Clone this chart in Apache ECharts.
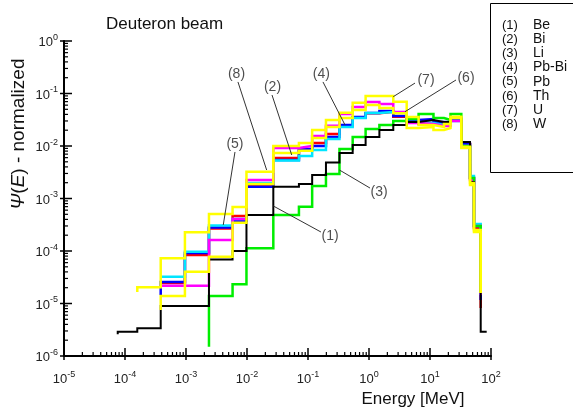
<!DOCTYPE html>
<html><head><meta charset="utf-8">
<script src="https://cdn.jsdelivr.net/npm/echarts/dist/echarts.min.js"></script>
<style>html,body{margin:0;padding:0;background:#fff}#c{width:573px;height:412px}</style>
</head><body><div id="c"></div>
<script>
// ---- data ----
const binEdges = [7.6e-5,1.59e-4,3.85e-4,9.6e-4,2.38e-3,5.8e-3,9.8e-3,2.7e-2,7.1e-2,0.117,0.197,0.328,0.54,0.88,1.48,2.5,4.15,6.5,11.4,17,21.7,32.6,45.3,52.6,67.8,85];
const beVals  = [2.9e-6,3.37e-6,8.95e-6,8.95e-6,6.89e-5,1.0e-4,4.85e-4,1.68e-3,1.89e-3,2.8e-3,4.85e-3,7.36e-3,1.04e-2,1.48e-2,2.02e-2,2.51e-2,2.87e-2,3.13e-2,2.87e-2,2.87e-2,3.41e-2,1.19e-2,2.06e-3,2.4e-4,2.9e-6];
const biVals  = [null,null,2.46e-5,8.4e-5,2.68e-4,4.64e-4,1.73e-3,5.91e-3,8.39e-3,1.14e-2,1.69e-2,2.4e-2,3.5e-2,4.2e-2,4.5e-2,3.6e-2,2.87e-2,2.62e-2,2.62e-2,2.62e-2,3.13e-2,1.09e-2,2.46e-3,2.74e-4,null];
const liVals  = [null,null,null,null,1.39e-5,2.32e-5,1.13e-4,4.85e-4,6.98e-4,1.73e-3,2.93e-3,8.77e-3,1.48e-2,2.11e-2,2.51e-2,2.99e-2,3.27e-2,4.07e-2,3.41e-2,3.13e-2,4.07e-2,1.0e-2,2.46e-3,3.0e-4,null];
const pbbiVals= [null,null,2.57e-5,9.16e-5,2.8e-4,3.78e-4,1.68e-3,5.41e-3,8.77e-3,1.0e-2,1.48e-2,2.51e-2,3.57e-2,4.25e-2,4.64e-2,3.73e-2,3.13e-2,3.27e-2,2.87e-2,2.87e-2,3.27e-2,1.09e-2,2.46e-3,3.0e-4,null];
const pbVals  = [null,null,3.24e-5,9.7e-5,3.06e-4,4.07e-4,1.97e-3,5.3e-3,6.45e-3,8.39e-3,1.36e-2,2.3e-2,3.41e-2,4.25e-2,4.44e-2,4.25e-2,2.87e-2,2.74e-2,2.51e-2,2.51e-2,2.99e-2,1.0e-2,2.68e-3,3.27e-4,null];
const thVals  = [null,null,2.18e-5,2.18e-5,1.62e-4,4.07e-4,2.25e-3,9.17e-3,1.0e-2,1.55e-2,2.43e-2,4.07e-2,5.53e-2,6.89e-2,6.31e-2,4.44e-2,2.74e-2,2.62e-2,2.4e-2,2.4e-2,2.99e-2,1.0e-2,2.25e-3,3.0e-4,null];
const uVals   = [null,null,1.39e-5,4.03e-5,7.79e-5,3.46e-4,1.89e-3,7.36e-3,8.14e-3,1.42e-2,2.3e-2,3.41e-2,6.68e-2,8.96e-2,8.96e-2,6.98e-2,3.57e-2,2.51e-2,2.3e-2,2.62e-2,3.61e-2,9.7e-3,1.97e-3,2.51e-4,null];
const wVals   = [null,2.04e-5,7.26e-5,2.27e-4,5.07e-4,6.89e-4,3.24e-3,1.0e-2,1.14e-2,2.02e-2,3.13e-2,4.31e-2,4.85e-2,6.04e-2,5.3e-2,4.2e-2,2.2e-2,2.3e-2,2.02e-2,2.2e-2,3.41e-2,9.17e-3,1.81e-3,2.3e-4,null];

const seriesNames  = ['Be','Bi','Li','Pb-Bi','Pb','Th','U','W'];
const seriesVals   = [beVals,biVals,liVals,pbbiVals,pbVals,thVals,uVals,wVals];
const seriesColors = ['#000000','#ff0000','#00ee00','#0000ff','#00e5ff','#ff00ff','#ffff00','#ffff00'];
const seriesWidths = [2,2.5,2.5,2.5,2.5,2.5,2.5,2.5];
const startTails   = [2.6e-6,null,1.5e-6,1.45e-5,null,null,7.5e-6,1.65e-5];
const endTails     = [null,8.2e-6,1.58e-5,1.17e-5,1.45e-5,1.45e-5,1.58e-5,1.58e-5];
const drawOrder    = [1,3,4,5,2,0,6,7];

const calloutTexts = ['(1)','(2)','(3)','(4)','(5)','(6)','(7)','(8)'];
const calloutTextE = [0.23,2.62e-2,1.46,0.166,6.35e-3,38.9,8.6,6.73e-3];
const calloutTextV = [1.89e-4,0.133,1.3e-3,0.235,1.09e-2,0.197,0.181,0.235];
const calloutFromE = [0.163,2.57e-2,1.04,0.176,6.35e-3,26.7,5.68,7.11e-3];
const calloutFromV = [2.3e-4,9.36e-2,1.58e-3,0.166,7.69e-3,0.181,0.158,0.166];
const calloutToE   = [2.7e-2,5.41e-2,0.328,0.405,4.08e-3,3.89,2.5,2.1e-2];
const calloutToV   = [7.2e-4,6.74e-3,3.49e-3,2.51e-2,3.13e-4,4.5e-2,8.69e-2,3.49e-3];

const xDecades = [-5,-4,-3,-2,-1,0,1,2];
const yDecades = [-6,-5,-4,-3,-2,-1,0];
const minorMult = [2,3,4,5,6,7,8,9];

// ---- build ----
const FONT = '"Liberation Sans", Arial, Helvetica, sans-serif';
function stepPoints(vals, st, et) {
  const pts = [];
  let first = -1, last = -1;
  vals.forEach((v, i) => { if (v != null) { if (first < 0) first = i; last = i; } });
  if (st != null) pts.push([binEdges[first], st]);
  for (let i = first; i <= last; i++) {
    pts.push([binEdges[i], vals[i]]);
    pts.push([binEdges[i + 1], vals[i]]);
  }
  if (et != null) pts.push([binEdges[last + 1], et]);
  return pts;
}
const series = [];
drawOrder.forEach(k => {
  series.push({
    type: 'line', name: seriesNames[k], data: stepPoints(seriesVals[k], startTails[k], endTails[k]),
    showSymbol: false, symbol: 'none', animation: false,
    lineStyle: { color: seriesColors[k], width: seriesWidths[k], cap: 'butt', join: 'miter' }, z: 2
  });
});
series.push({
  type: 'lines', coordinateSystem: 'cartesian2d', animation: false, z: 3,
  lineStyle: { color: '#333', width: 1, opacity: 1 },
  data: calloutTexts.map((t, i) => ({ coords: [[calloutFromE[i], calloutFromV[i]], [calloutToE[i], calloutToV[i]]] }))
});
series.push({
  type: 'scatter', animation: false, z: 4, symbolSize: 1, itemStyle: { color: 'rgba(0,0,0,0)' },
  data: calloutTexts.map((t, i) => ({ name: t, value: [calloutTextE[i], calloutTextV[i]] })),
  label: { show: true, position: 'inside', formatter: p => p.name, color: '#222', fontSize: 14, fontFamily: FONT }
});
const xMajor = xDecades.map(k => [Math.pow(10, k), 1e-6, 1]);
const xMinor = [];
xDecades.slice(0, -1).forEach(k => minorMult.forEach(m => xMinor.push([m * Math.pow(10, k), 1e-6, 0])));
const yMajor = yDecades.map(k => [1e-5, Math.pow(10, k), 1]);
const yMinor = [];
yDecades.slice(0, -1).forEach(k => minorMult.forEach(m => yMinor.push([1e-5, m * Math.pow(10, k), 0])));
series.push({
  type: 'custom', animation: false, z: 5, clip: false, silent: true,
  data: xMajor.concat(xMinor),
  renderItem: (params, api) => {
    const p = api.coord([api.value(0), api.value(1)]);
    const major = api.value(2) === 1;
    return { type: 'line', shape: { x1: p[0], y1: p[1] + (major ? 4 : 0), x2: p[0], y2: p[1] - (major ? 8 : 4) },
             style: { stroke: '#000', lineWidth: major ? 1.5 : 1.2 } };
  }
});
series.push({
  type: 'custom', animation: false, z: 5, clip: false, silent: true,
  data: yMajor.concat(yMinor),
  renderItem: (params, api) => {
    const p = api.coord([api.value(0), api.value(1)]);
    const major = api.value(2) === 1;
    return { type: 'line', shape: { x1: p[0] - (major ? 4 : 0), y1: p[1], x2: p[0] + (major ? 8 : 4), y2: p[1] },
             style: { stroke: '#000', lineWidth: major ? 1.5 : 1.2 } };
  }
});

const supRich = {
  b: { fontSize: 13, fontFamily: FONT, color: '#222', lineHeight: 16, verticalAlign: 'bottom' },
  s: { fontSize: 9, fontFamily: FONT, color: '#222', lineHeight: 10, verticalAlign: 'top' }
};
const expLabel = v => '{b|10}{s|' + Math.round(Math.log10(v)) + '}';

const legendGraphics = [{ type: 'rect', shape: { x: 490.5, y: 3.5, width: 100, height: 169 }, style: { fill: 'none', stroke: '#000', lineWidth: 1 } }];
seriesNames.forEach((n, i) => {
  legendGraphics.push({ type: 'text', x: 502, y: 25 + i * 14.2, style: { text: '(' + (i + 1) + ')', fontSize: 13, fontFamily: FONT, fill: '#111', verticalAlign: 'middle' } });
  legendGraphics.push({ type: 'text', x: 533, y: 25 + i * 14.2, style: { text: n, fontSize: 14, fontFamily: FONT, fill: '#111', verticalAlign: 'middle' } });
});

const chart = echarts.init(document.getElementById('c'), null, { renderer: 'canvas' });
chart.setOption({
  animation: false,
  backgroundColor: '#fff',
  grid: { left: 64, right: 82, top: 41, bottom: 56, containLabel: false },
  xAxis: {
    type: 'log', logBase: 10, min: 1e-5, max: 1e2, splitNumber: 7,
    axisLine: { show: true, lineStyle: { color: '#000', width: 2 } },
    axisTick: { show: false }, minorTick: { show: false }, splitLine: { show: false },
    axisLabel: { formatter: expLabel, rich: supRich, margin: 14 }
  },
  yAxis: {
    type: 'log', logBase: 10, min: 1e-6, max: 1, splitNumber: 6,
    axisLine: { show: true, lineStyle: { color: '#000', width: 2 } },
    axisTick: { show: false }, minorTick: { show: false }, splitLine: { show: false },
    axisLabel: { formatter: expLabel, rich: supRich, margin: 6 }
  },
  graphic: [
    { type: 'text', x: 106, y: 24, style: { text: 'Deuteron beam', fontSize: 17, fontFamily: FONT, fill: '#111', verticalAlign: 'middle' } },
    { type: 'text', x: 413, y: 399, style: { text: 'Energy [MeV]', fontSize: 17, fontFamily: FONT, fill: '#111', align: 'center', verticalAlign: 'middle' } },
    { type: 'text', x: 19, y: 134, rotation: Math.PI / 2,
      style: { text: '{i|Ψ}({i|E}) - normalized', fontSize: 19, fontFamily: FONT, fill: '#111', align: 'center', verticalAlign: 'middle',
               rich: { i: { fontStyle: 'italic', fontSize: 19, fontFamily: FONT, fill: '#111' } } } }
  ].concat(legendGraphics),
  series: series
});
</script></body></html>
